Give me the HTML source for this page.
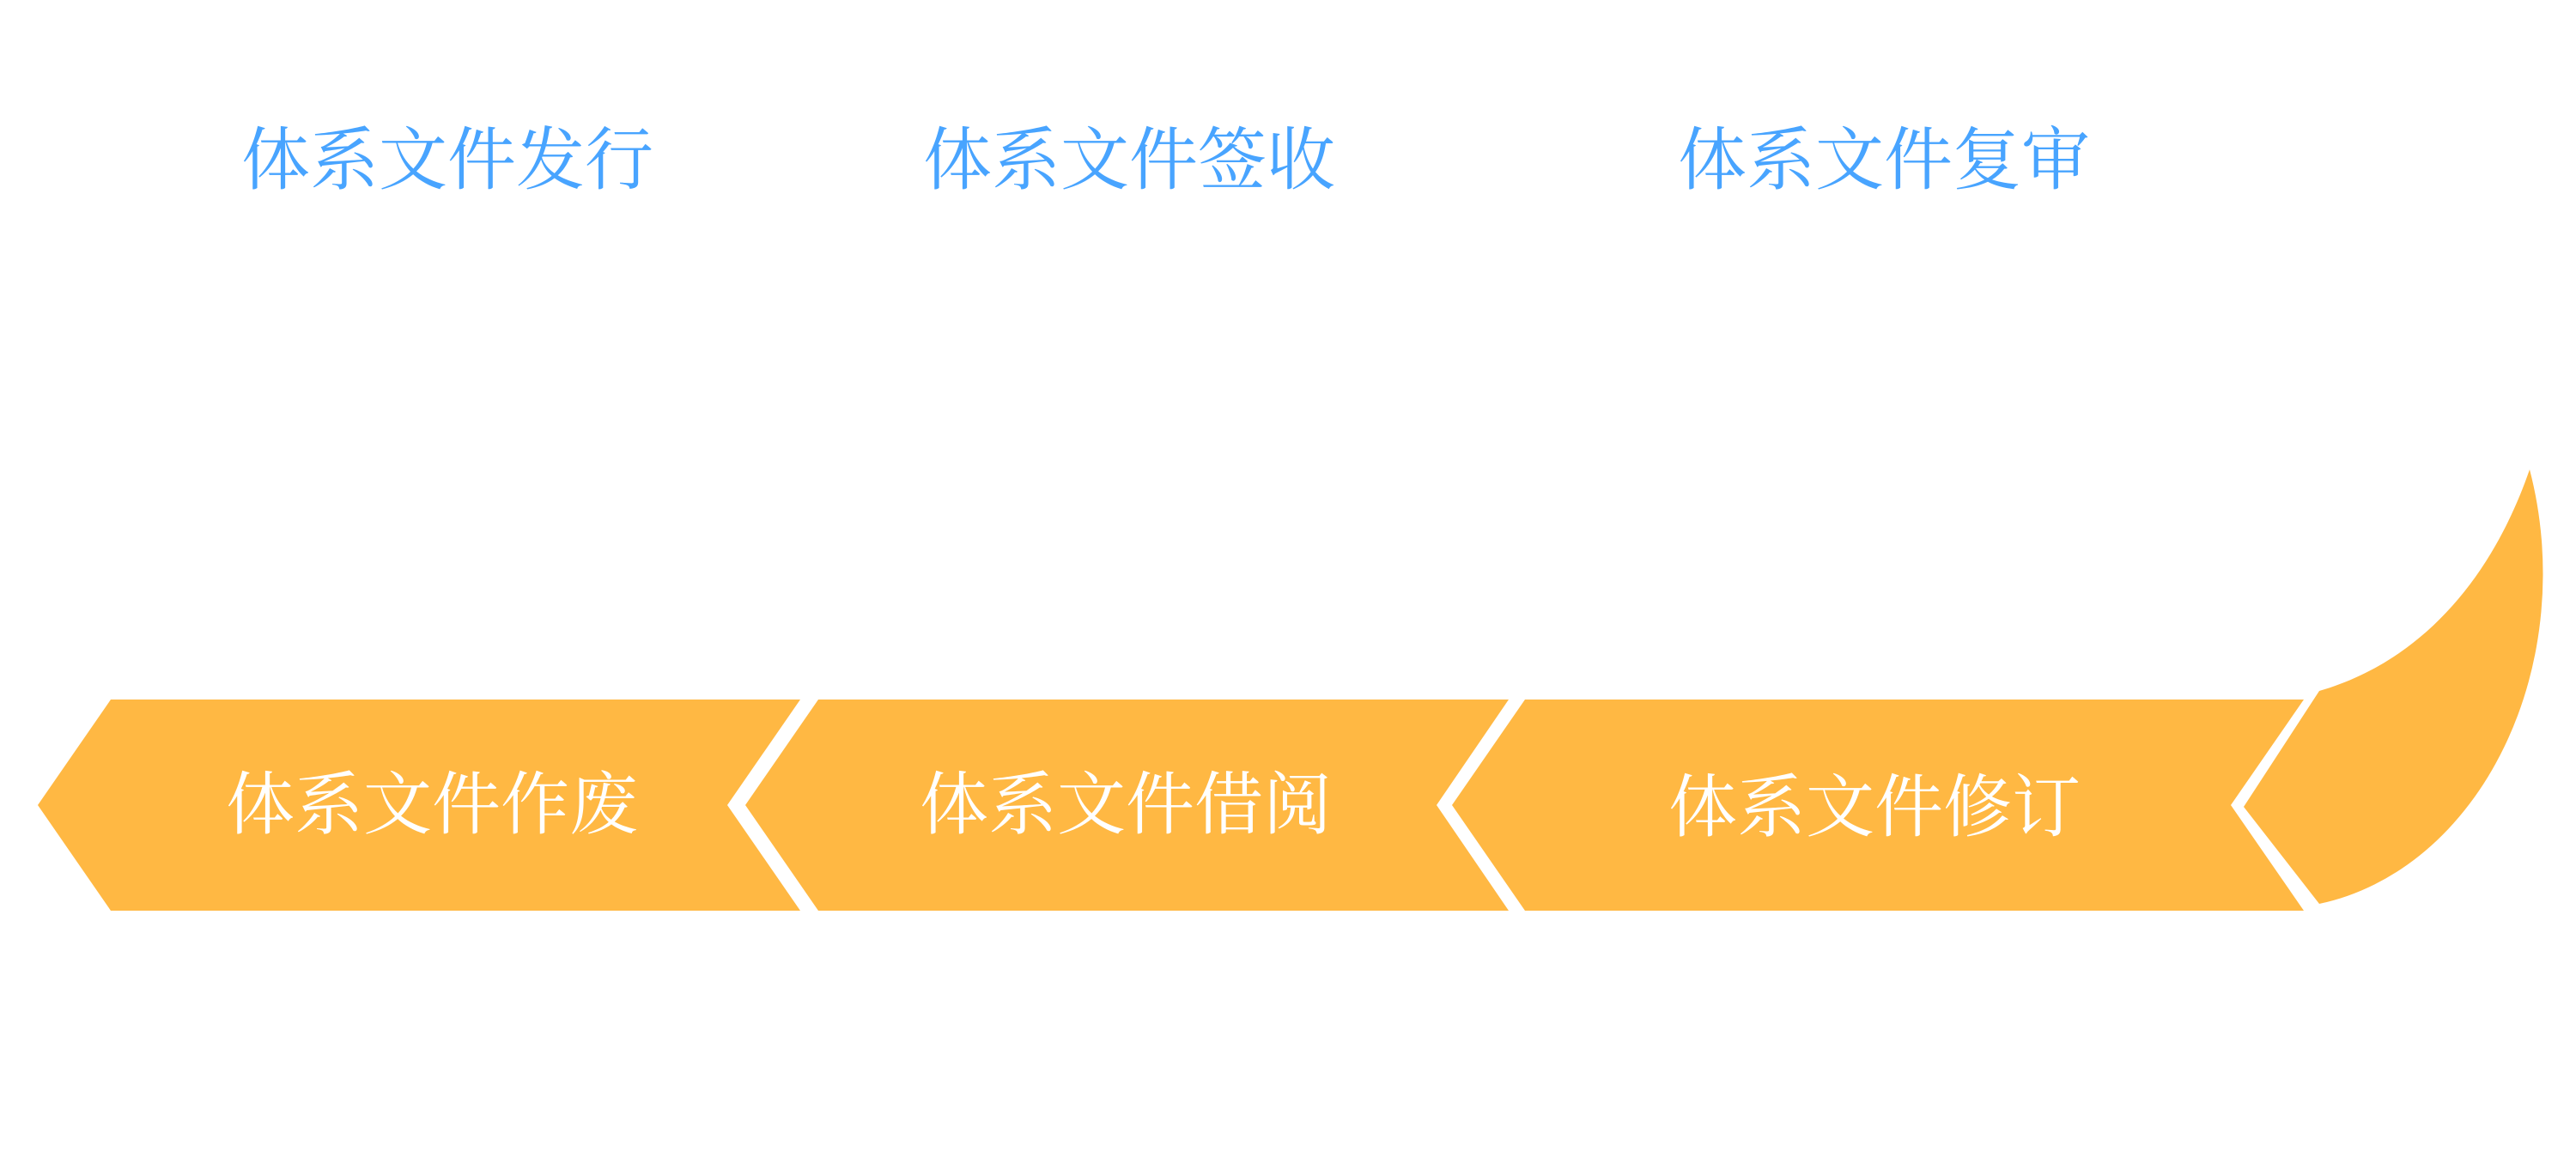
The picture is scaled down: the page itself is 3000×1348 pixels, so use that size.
<!DOCTYPE html>
<html>
<head>
<meta charset="utf-8">
<style>
  html, body { margin: 0; padding: 0; background: #ffffff; }
  body { width: 3000px; height: 1348px; overflow: hidden; }
  svg { display: block; }
  .t { font-family: "Liberation Serif", "Noto Serif CJK SC", serif; font-size: 80px; }
  .blue { fill: #48A4FF; }
  .white { fill: #ffffff; }
</style>
</head>
<body>
<svg width="3000" height="1348" viewBox="0 0 3000 1348" xmlns="http://www.w3.org/2000/svg">
  <rect x="0" y="0" width="3000" height="1348" fill="#ffffff"/>

  <!-- Top labels -->
  <text class="t blue" x="281" y="214">体系文件发行</text>
  <text class="t blue" x="1075" y="214">体系文件签收</text>
  <text class="t blue" x="1954" y="214">体系文件复审</text>

  <!-- Chevron 1 -->
  <polygon fill="#FFB843" points="129,815 932,815 847,938 932,1061 129,1061 44,938"/>
  <!-- Chevron 2 -->
  <polygon fill="#FFB843" points="953,815 1757,815 1673,938 1757,1061 953,1061 868,938"/>
  <!-- Chevron 3 -->
  <polygon fill="#FFB843" points="1776,815 2683,815 2598,938 2683,1061 1776,1061 1691,938"/>

  <!-- Right curved shape -->
  <path fill="#FFB843" d="M2701,805 C2815,772 2900,680 2946,547 A312,390 0 0 1 2701,1053 L2613,940 Z"/>

  <!-- Chevron labels -->
  <text class="t white" x="263" y="965">体系文件作废</text>
  <text class="t white" x="1071" y="965">体系文件借阅</text>
  <text class="t white" x="1943" y="968">体系文件修订</text>
</svg>
</body>
</html>
